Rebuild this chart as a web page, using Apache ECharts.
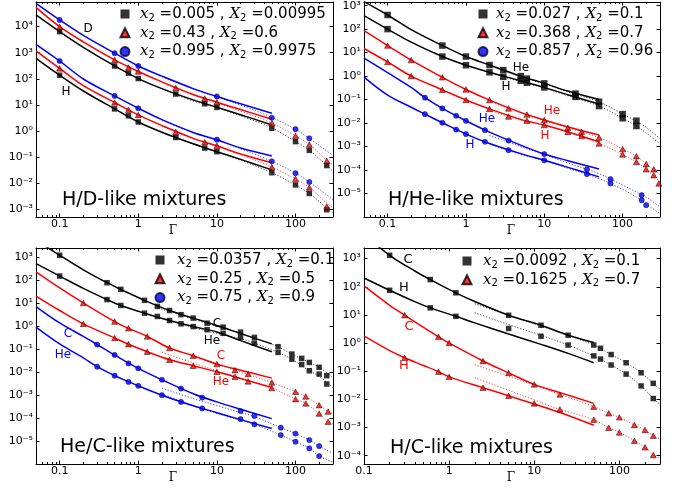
<!DOCTYPE html>
<html><head><meta charset="utf-8">
<script src="https://cdn.jsdelivr.net/npm/echarts@6/dist/echarts.min.js"></script>
<style>html,body{margin:0;padding:0;background:#fff}#c{width:678px;height:491px}</style>
</head><body><div id="c"></div>
<script>
// ---------------- Panel 1 : H/D-like mixtures ----------------
const p1_ptX = [0.1, 0.5, 0.75, 1, 3, 7, 10, 50, 100, 150, 250];
const p1_D_black = [6400, 310, 164, 102, 26, 11, 8, 1.26, 0.39, 0.18, 0.047];
const p1_D_red = [1e4, 530, 270, 190, 44, 17.5, 12.6, 2.0, 0.65, 0.3, 0.072];
const p1_D_blue = [1.8e4, 960, null, 310, null, null, 21, 3.2, 1.17, 0.52, null];
const p1_H_black = [137, 7.0, 3.8, 2.2, 0.56, 0.22, 0.16, 0.025, 0.0085, 0.004, 0.00095];
const p1_H_red = [250, 12.3, 6.5, 4.1, 0.9, 0.37, 0.27, 0.041, 0.0145, 0.0068, 0.00126];
const p1_H_blue = [480, 22, null, 7.4, null, null, 0.46, 0.068, 0.024, 0.011, null];
const p1_solX = [0.05, 0.1, 0.2, 0.5, 1, 2, 5, 10, 20, 50];
const p1_solD_black = [2.8e4, 6.4e3, 1.6e3, 310, 102, 42, 15.5, 8.1, 4.2, 1.7];
const p1_solD_red = [5.5e4, 1e4, 2.6e3, 530, 190, 76, 25, 12.6, 6.6, 2.8];
const p1_solD_blue = [7.8e4, 1.8e4, 4.6e3, 960, 310, 126, 42, 21, 11, 4.8];
const p1_solH_black = [610, 137, 34, 7.0, 2.2, 0.89, 0.32, 0.16, 0.081, 0.032];
const p1_solH_red = [1170, 250, 55, 12.3, 4.1, 1.6, 0.52, 0.27, 0.13, 0.06];
const p1_solH_blue = [2100, 480, 98, 22, 7.4, 2.7, 0.87, 0.46, 0.22, 0.11];
const p1_dotX = [2, 5, 10, 20, 50, 100, 150, 250, 300];
const p1_dotD_black = [40, 14, 7.8, 3.8, 1.3, 0.39, 0.18, 0.047, 0.028];
const p1_dotD_red = [72, 23.5, 12, 5.8, 2.0, 0.65, 0.3, 0.075, 0.05];
const p1_dotD_blue = [120, 40, 20, 9.8, 3.3, 1.15, 0.52, 0.17, 0.115];
const p1_dotH_black = [0.85, 0.31, 0.155, 0.075, 0.025, 0.0085, 0.004, 0.0011, 0.0007];
const p1_dotH_red = [1.5, 0.5, 0.26, 0.125, 0.041, 0.0145, 0.0068, 0.0017, 0.0011];
const p1_dotH_blue = [2.6, 0.85, 0.44, 0.21, 0.068, 0.024, 0.011, 0.0035, 0.0023];
const p1_legend = [['0.005', '0.00995'], ['0.43', '0.6'], ['0.995', '0.9975']];

// ---------------- Panel 2 : H/He-like mixtures ----------------
const p2_ptX_black = [0.1, 0.5, 1, 2, 3, 5, 6, 10, 25, 50, 100, 150];
const p2_He_black = [400, 20, 6.8, 2.96, 1.8, 1.0, 0.78, 0.49, 0.18, 0.081, 0.024, 0.0126];
const p2_H_black = [100, 6.8, 2.9, 1.45, 0.93, 0.63, 0.52, 0.33, 0.13, 0.053, 0.016, 0.0075];
const p2_ptX_red = [0.1, 0.2, 0.5, 1, 2, 3.5, 6, 10, 20, 30, 50, 100, 150, 200, 250, 290];
const p2_He_red = [20, 4.8, 0.89, 0.27, 0.095, 0.042, 0.023, 0.0134, 0.0063, 0.0043, 0.0024, 7.8e-4, 3.9e-4, 1.8e-4, 1.07e-4, null];
const p2_H_red = [4.0, 1.0, 0.26, 0.096, 0.04, 0.019, 0.0126, 0.0082, 0.0042, 0.0028, 0.00136, 4.6e-4, 2.2e-4, 1.07e-4, 6e-5, 2.7e-5];
const p2_ptX_blue = [0.3, 0.5, 0.75, 1, 1.75, 3.5, 10, 35, 70, 175, 200];
const p2_He_blue = [0.12, 0.042, 0.0205, 0.0125, 0.005, 0.0018, 4.8e-4, 1.07e-4, 4.1e-5, 8.5e-6, null];
const p2_H_blue = [0.024, 0.0103, 0.0053, 0.0034, 0.0016, 7e-4, 2.6e-4, 6.7e-5, 2.7e-5, 5.2e-6, 3.2e-6];
const p2_solX = [0.05, 0.1, 0.2, 0.5, 1, 2, 5, 10, 20, 50];
const p2_solHe_black = [1480, 400, 95, 20, 6.8, 2.96, 1.0, 0.49, 0.23, 0.10];
const p2_solH_black = [375, 100, 28, 6.8, 2.9, 1.45, 0.63, 0.33, 0.16, 0.065];
const p2_solHe_red = [86, 20, 4.8, 0.89, 0.27, 0.095, 0.0285, 0.0134, 0.0068, 0.0031];
const p2_solH_red = [15, 4.0, 1.0, 0.26, 0.096, 0.04, 0.0144, 0.0082, 0.0042, 0.0016];
const p2_solX_blue = [0.05, 0.1, 0.2, 0.3, 0.5, 1, 2, 5, 10, 20, 50];
const p2_solHe_blue = [5.8, 1.4, 0.33, 0.12, 0.042, 0.0125, 0.0041, 0.00115, 4.8e-4, 2.5e-4, 1.1e-4];
const p2_solH_blue = [0.9, 0.155, 0.047, 0.024, 0.0103, 0.0034, 0.00135, 5e-4, 2.6e-4, 1.3e-4, 5.1e-5];
const p2_dotX = [2, 5, 10, 20, 50, 100, 150, 200, 300];
const p2_dotHe_black = [2.8, 0.95, 0.47, 0.21, 0.08, 0.024, 0.012, 0.0065, 0.0022];
const p2_dotH_black = [1.35, 0.58, 0.31, 0.145, 0.053, 0.016, 0.0075, 0.0038, 0.0013];
const p2_dotHe_red = [0.085, 0.027, 0.013, 0.0063, 0.0024, 7.8e-4, 3.9e-4, 1.8e-4, 6.3e-5];
const p2_dotH_red = [0.036, 0.013, 0.0078, 0.0042, 0.00136, 4.6e-4, 2.2e-4, 1.07e-4, 3.2e-5];
const p2_dotHe_blue = [0.003, 0.001, 4.5e-4, 2e-4, 7e-5, 2.3e-5, 1.15e-5, 7e-6, 2.7e-6];
const p2_dotH_blue = [0.0013, 4.6e-4, 2.5e-4, 1.2e-4, 4.3e-5, 1.5e-5, 7e-6, 3.5e-6, 1.4e-6];
const p2_legend = [['0.027', '0.1'], ['0.368', '0.7'], ['0.857', '0.96']];

// ---------------- Panel 3 : He/C-like mixtures ----------------
const p3_ptX_black = [0.1, 0.4, 0.6, 1.2, 1.75, 2.5, 3.5, 5, 7.5, 12, 20, 30, 60, 90, 120, 150, 200, 250];
const p3_C_black = [1180, 76, 39, 13, 7.1, 4.7, 3.1, 2.2, 1.32, 0.89, 0.54, 0.32, 0.126, 0.06, 0.039, 0.026, 0.016, 0.0069];
const p3_He_black = [148, 14, 7.8, 3.6, 2.6, 1.73, 1.24, 0.94, 0.69, 0.48, 0.32, 0.18, 0.071, 0.036, 0.021, 0.0113, 0.0081, 0.003];
const p3_ptX_red = [0.2, 0.5, 0.75, 1.3, 2.5, 5, 10, 17, 25, 50, 100, 135, 200, 260];
const p3_C_red = [10, 1.55, 0.79, 0.35, 0.11, 0.051, 0.022, 0.012, 0.0081, 0.0035, 0.00138, 8.6e-4, 3.6e-4, 1.9e-4];
const p3_He_red = [1.23, 0.30, 0.16, 0.076, 0.034, 0.0186, 0.0102, 0.0062, 0.0039, 0.002, 6.6e-4, 4.3e-4, 1.56e-4, 6.9e-5];
const p3_ptX_blue = [0.3, 0.5, 0.75, 1, 2, 3.5, 6.5, 20, 30, 65, 100, 150, 200];
const p3_C_blue = [0.155, 0.055, 0.0235, 0.0144, 0.0046, 0.0019, 7.7e-4, 2.0e-4, 1.23e-4, 3.8e-5, 2.1e-5, 1.1e-5, 6e-6];
const p3_He_blue = [0.017, 0.0069, 0.0037, 0.0025, 9.8e-4, 5e-4, 2.6e-4, 8.9e-5, 5.3e-5, 1.8e-5, 9.3e-6, 4.8e-6, 2.2e-6];
const p3_solX_black = [0.05, 0.1, 0.2, 0.4, 0.6, 1.2, 2.5, 5, 10, 20, 50];
const p3_solC_black = [5400, 1180, 275, 76, 39, 13, 4.7, 2.2, 1.04, 0.47, 0.166];
const p3_solHe_black = [510, 148, 43, 14, 7.8, 3.6, 1.73, 0.94, 0.55, 0.23, 0.076];
const p3_solX_red = [0.05, 0.1, 0.2, 0.5, 0.75, 1.3, 2.5, 5, 10, 20, 50];
const p3_solC_red = [224, 45, 10, 1.55, 0.79, 0.35, 0.11, 0.051, 0.022, 0.012, 0.0054];
const p3_solHe_red = [20, 4.7, 1.23, 0.30, 0.16, 0.076, 0.034, 0.0186, 0.0102, 0.0052, 0.0021];
const p3_solX_blue = [0.05, 0.1, 0.2, 0.3, 0.5, 1, 2, 5, 10, 20, 50];
const p3_solC_blue = [7, 1.35, 0.35, 0.155, 0.055, 0.0144, 0.0046, 0.00113, 5e-4, 2.4e-4, 9.4e-5];
const p3_solHe_blue = [0.89, 0.165, 0.041, 0.017, 0.0069, 0.0025, 9.8e-4, 3.4e-4, 1.7e-4, 8.5e-5, 3.5e-5];
const p3_dotX_black = [1.8, 5, 10, 20, 30, 60, 90, 150, 200, 300];
const p3_dotC_black = [6.0, 2.0, 0.95, 0.48, 0.3, 0.125, 0.06, 0.026, 0.016, 0.0058];
const p3_dotHe_black = [2.3, 0.85, 0.47, 0.28, 0.18, 0.071, 0.036, 0.0113, 0.0065, 0.0021];
const p3_dotX_red = [2, 5, 10, 17, 25, 50, 100, 135, 200, 260, 300];
const p3_dotC_red = [0.14, 0.049, 0.022, 0.012, 0.0078, 0.0035, 0.00138, 8.6e-4, 3.6e-4, 1.9e-4, 1.5e-4];
const p3_dotHe_red = [0.071, 0.025, 0.011, 0.0064, 0.0042, 0.002, 6.6e-4, 4.3e-4, 1.56e-4, 7e-5, 5.5e-5];
const p3_dotX_blue = [2, 5, 10, 20, 30, 65, 100, 150, 200, 300];
const p3_dotC_blue = [0.002, 7e-4, 3.5e-4, 1.7e-4, 1.15e-4, 3.8e-5, 2.1e-5, 1.1e-5, 6e-6, 2.9e-6];
const p3_dotHe_blue = [0.0011, 3.5e-4, 1.6e-4, 8e-5, 5.3e-5, 1.8e-5, 9.3e-6, 4.8e-6, 2.2e-6, 1.2e-6];
const p3_legend = [['0.0357', '0.1'], ['0.25', '0.5'], ['0.75', '0.9']];

// ---------------- Panel 4 : H/C-like mixtures ----------------
const p4_ptX_black = [0.2, 0.6, 1.2, 5, 12, 25, 50, 60, 80, 120, 180, 250];
const p4_C_black = [1310, 180, 61, 9.7, 4.3, 1.9, 0.85, 0.65, 0.39, 0.20, 0.088, 0.037];
const p4_H_black = [75, 17.8, 8.9, 3.3, 1.74, 0.85, 0.35, 0.27, 0.166, 0.079, 0.030, 0.0107];
const p4_ptX_red = [0.3, 0.75, 1, 2.5, 5, 10, 20, 50, 75, 100, 150, 200, 250];
const p4_C_red = [9.8, 1.66, 1.0, 0.23, 0.087, 0.034, 0.015, 0.0055, 0.0032, 0.0023, 0.00123, 8.2e-4, 5.1e-4];
const p4_H_red = [0.30, 0.096, 0.063, 0.026, 0.0134, 0.0072, 0.0044, 0.0019, 9.8e-4, 6.7e-4, 3.4e-4, 2e-4, 1.05e-4];
const p4_solX_black = [0.1, 0.2, 0.4, 0.6, 1.2, 2, 5, 12, 25, 50];
const p4_solC_black = [7400, 1310, 355, 180, 61, 30, 9.7, 4.3, 1.9, 1.05];
const p4_solH_black = [205, 75, 29, 17.8, 8.9, 5.2, 2.1, 0.9, 0.43, 0.2];
const p4_solX_red = [0.1, 0.2, 0.3, 0.5, 0.75, 1, 2.5, 5, 10, 20, 50];
const p4_solC_red = [107, 22, 9.8, 3.6, 1.66, 1.0, 0.23, 0.087, 0.034, 0.0174, 0.0072];
const p4_solH_red = [1.8, 0.54, 0.30, 0.16, 0.096, 0.063, 0.026, 0.0134, 0.0068, 0.0034, 0.0012];
const p4_dotX_black = [2, 5, 12, 25, 50, 60, 80, 120, 180, 250, 300];
const p4_dotC_black = [25, 9.7, 4.0, 1.9, 0.85, 0.65, 0.39, 0.2, 0.088, 0.037, 0.023];
const p4_dotH_black = [12, 4.5, 1.9, 0.85, 0.35, 0.27, 0.166, 0.079, 0.03, 0.0107, 0.0066];
const p4_dotX_red = [2, 5, 10, 20, 50, 75, 100, 150, 200, 250, 300];
const p4_dotC_red = [0.17, 0.066, 0.032, 0.015, 0.0055, 0.0032, 0.0023, 0.00123, 8.2e-4, 5.1e-4, 3.9e-4];
const p4_dotH_red = [0.059, 0.021, 0.0096, 0.0044, 0.0019, 9.8e-4, 6.7e-4, 3.4e-4, 2e-4, 1.05e-4, 8e-5];
const p4_legend = [['0.0092', '0.1'], ['0.1625', '0.7']];

// axis extents
const xRanges = [[0.05, 300], [0.05, 300], [0.05, 300], [0.1, 300]];
const yRanges = [[5e-4, 8.8e4], [1e-6, 1430], [1e-6, 2450], [5.06e-5, 2380]];
const titles = ['H/D-like mixtures', 'H/He-like mixtures', 'He/C-like mixtures', 'H/C-like mixtures'];

// ---------------- build ----------------
const BLACK = '#000000', RED = '#ff0000', BLUE = '#0000ff';
const grids = [
  {left: 36, top: 2, width: 297, height: 215},
  {left: 364, top: 2, width: 296, height: 215},
  {left: 36, top: 248, width: 297, height: 216},
  {left: 364, top: 248, width: 296, height: 216}
];
function pairs(xs, ys) { const out = []; xs.forEach((x, i) => { if (ys[i] != null) out.push([x, ys[i]]); }); return out; }
const SUP = {'-': '\u207b', '0': '\u2070', '1': '\u00b9', '2': '\u00b2', '3': '\u00b3', '4': '\u2074', '5': '\u2075', '6': '\u2076', '7': '\u2077', '8': '\u2078', '9': '\u2079'};
function yFmt(v) { const e = Math.round(Math.log10(v)); return '10' + String(e).split('').map(c => SUP[c]).join(''); }
function xFmt(v) { return String(+(+v).toPrecision(3)); }

const xAxes = [], yAxes = [];
grids.forEach((g, i) => {
  const base = {type: 'log', logBase: 10, gridIndex: i, splitLine: {show: false},
    axisLine: {show: true, lineStyle: {color: '#000', width: 1}},
    axisTick: {show: true, inside: true, length: 3.5, lineStyle: {color: '#000'}}};
  xAxes.push(Object.assign({}, base, {position: 'bottom', min: xRanges[i][0], max: xRanges[i][1],
    minorTick: {show: true, splitNumber: 9, length: 2, lineStyle: {color: '#000'}},
    axisLabel: {show: true, margin: 2, formatter: xFmt, fontFamily: 'DejaVu Sans', fontSize: 11, color: '#000',
      showMinLabel: i === 3, showMaxLabel: false}}));
  xAxes.push(Object.assign({}, base, {position: 'top', min: xRanges[i][0], max: xRanges[i][1],
    minorTick: {show: true, splitNumber: 9, length: 2, lineStyle: {color: '#000'}},
    axisLabel: {show: false}}));
  yAxes.push(Object.assign({}, base, {position: 'left', min: yRanges[i][0], max: yRanges[i][1],
    axisLabel: {show: true, margin: 3, formatter: yFmt, fontFamily: 'DejaVu Sans', fontSize: 11, color: '#000',
      showMinLabel: false, showMaxLabel: false}}));
  yAxes.push(Object.assign({}, base, {position: 'right', min: yRanges[i][0], max: yRanges[i][1],
    axisLabel: {show: false}}));
});

const series = [];
function addLine(gi, xs, ys, color, dotted) {
  series.push({type: 'line', name: 'fit', xAxisIndex: 2 * gi, yAxisIndex: 2 * gi, data: pairs(xs, ys),
    showSymbol: false, symbol: 'none', smooth: 0.35, clip: true, silent: true, z: dotted ? 2 : 3,
    lineStyle: dotted ? {color: color, width: 1, type: [1.2, 1.8], opacity: 0.75} : {color: color, width: 1.5}});
}
const MARK = {
  black: {symbol: 'rect', size: 5.5, itemStyle: {color: BLACK}},
  red: {symbol: 'triangle', size: [6, 5.5], itemStyle: {color: RED, borderColor: '#000', borderWidth: 0.6}},
  blue: {symbol: 'circle', size: 5.2, itemStyle: {color: BLUE, borderColor: '#000033', borderWidth: 0.6}}
};
function addPts(gi, name, kind, xs, ysList, size) {
  let data = [];
  ysList.forEach(ys => { data = data.concat(pairs(xs, ys)); });
  const m = MARK[kind];
  series.push({type: 'scatter', name: name, xAxisIndex: 2 * gi, yAxisIndex: 2 * gi, data: data,
    symbol: m.symbol, symbolSize: size || m.size, itemStyle: m.itemStyle, z: 5, silent: true});
}

// panel 1
addLine(0, p1_solX, p1_solD_black, BLACK); addLine(0, p1_solX, p1_solD_red, RED); addLine(0, p1_solX, p1_solD_blue, BLUE);
addLine(0, p1_solX, p1_solH_black, BLACK); addLine(0, p1_solX, p1_solH_red, RED); addLine(0, p1_solX, p1_solH_blue, BLUE);
addLine(0, p1_dotX, p1_dotD_black, BLACK, 1); addLine(0, p1_dotX, p1_dotD_red, RED, 1); addLine(0, p1_dotX, p1_dotD_blue, BLUE, 1);
addLine(0, p1_dotX, p1_dotH_black, BLACK, 1); addLine(0, p1_dotX, p1_dotH_red, RED, 1); addLine(0, p1_dotX, p1_dotH_blue, BLUE, 1);
addPts(0, 'p1a', 'black', p1_ptX, [p1_D_black, p1_H_black]);
addPts(0, 'p1b', 'red', p1_ptX, [p1_D_red, p1_H_red]);
addPts(0, 'p1c', 'blue', p1_ptX, [p1_D_blue, p1_H_blue]);
// panel 2
addLine(1, p2_solX, p2_solHe_black, BLACK); addLine(1, p2_solX, p2_solH_black, BLACK);
addLine(1, p2_solX, p2_solHe_red, RED); addLine(1, p2_solX, p2_solH_red, RED);
addLine(1, p2_solX_blue, p2_solHe_blue, BLUE); addLine(1, p2_solX_blue, p2_solH_blue, BLUE);
addLine(1, p2_dotX, p2_dotHe_black, BLACK, 1); addLine(1, p2_dotX, p2_dotH_black, BLACK, 1);
addLine(1, p2_dotX, p2_dotHe_red, RED, 1); addLine(1, p2_dotX, p2_dotH_red, RED, 1);
addLine(1, p2_dotX, p2_dotHe_blue, BLUE, 1); addLine(1, p2_dotX, p2_dotH_blue, BLUE, 1);
addPts(1, 'p2a', 'black', p2_ptX_black, [p2_He_black, p2_H_black], 6.5);
addPts(1, 'p2b', 'red', p2_ptX_red, [p2_He_red, p2_H_red]);
addPts(1, 'p2c', 'blue', p2_ptX_blue, [p2_He_blue, p2_H_blue]);
// panel 3
addLine(2, p3_solX_black, p3_solC_black, BLACK); addLine(2, p3_solX_black, p3_solHe_black, BLACK);
addLine(2, p3_solX_red, p3_solC_red, RED); addLine(2, p3_solX_red, p3_solHe_red, RED);
addLine(2, p3_solX_blue, p3_solC_blue, BLUE); addLine(2, p3_solX_blue, p3_solHe_blue, BLUE);
addLine(2, p3_dotX_black, p3_dotC_black, BLACK, 1); addLine(2, p3_dotX_black, p3_dotHe_black, BLACK, 1);
addLine(2, p3_dotX_red, p3_dotC_red, RED, 1); addLine(2, p3_dotX_red, p3_dotHe_red, RED, 1);
addLine(2, p3_dotX_blue, p3_dotC_blue, BLUE, 1); addLine(2, p3_dotX_blue, p3_dotHe_blue, BLUE, 1);
addPts(2, 'p3a', 'black', p3_ptX_black, [p3_C_black, p3_He_black]);
addPts(2, 'p3b', 'red', p3_ptX_red, [p3_C_red, p3_He_red]);
addPts(2, 'p3c', 'blue', p3_ptX_blue, [p3_C_blue, p3_He_blue]);
// panel 4
addLine(3, p4_solX_black, p4_solC_black, BLACK); addLine(3, p4_solX_black, p4_solH_black, BLACK);
addLine(3, p4_solX_red, p4_solC_red, RED); addLine(3, p4_solX_red, p4_solH_red, RED);
addLine(3, p4_dotX_black, p4_dotC_black, BLACK, 1); addLine(3, p4_dotX_black, p4_dotH_black, BLACK, 1);
addLine(3, p4_dotX_red, p4_dotC_red, RED, 1); addLine(3, p4_dotX_red, p4_dotH_red, RED, 1);
addPts(3, 'p4a', 'black', p4_ptX_black, [p4_C_black, p4_H_black]);
addPts(3, 'p4b', 'red', p4_ptX_red, [p4_C_red, p4_H_red]);

// legends
const LEG = {};
[[p1_legend, 'p1'], [p2_legend, 'p2'], [p3_legend, 'p3'], [p4_legend, 'p4']].forEach(([arr, p]) => {
  arr.forEach((v, k) => { LEG[p + 'abc'[k]] = v; });
});
function legRich(gap) {
  return {
    g: {width: gap},
    i: {fontFamily: 'DejaVu Serif', fontStyle: 'italic', fontSize: 15, color: '#000', lineHeight: 18},
    s: {fontFamily: 'DejaVu Sans', fontSize: 10, color: '#000', padding: [8, 0, 0, 0]},
    t: {fontFamily: 'DejaVu Sans', fontSize: 15, color: '#000', lineHeight: 18}
  };
}
function legFmt(name) { const v = LEG[name]; return '{g|}{i|x}{s|2}{t| =' + v[0] + ' , }{i|X}{s|2}{t| =' + v[1] + '}'; }
const legPos = [[119.5, 6.5, 5.5], [477.5, 6.5, 3.5], [154.5, 252.5, 7.5], [461.5, 253.5, 6.5]];
const legend = legPos.map((p, i) => ({
  left: p[0], top: p[1], orient: 'vertical', itemGap: 2.3, itemWidth: 9, itemHeight: 9, padding: 0,
  selectedMode: false, formatter: legFmt, textStyle: {rich: legRich(p[2])},
  data: (i === 3 ? ['a', 'b'] : ['a', 'b', 'c']).map(s => 'p' + (i + 1) + s)
}));

// annotations
const labelsTxt = [
  ['D', 88, 29, BLACK], ['H', 66, 92, BLACK],
  ['He', 521, 68, BLACK], ['H', 506, 87, BLACK], ['He', 552, 111, RED], ['H', 545, 136, RED], ['He', 487, 119, BLUE], ['H', 470, 145, BLUE],
  ['C', 217, 324, BLACK], ['He', 212, 341, BLACK], ['C', 221, 356, RED], ['He', 221, 382, RED], ['C', 68, 334, BLUE], ['He', 63, 355, BLUE],
  ['C', 408, 260, BLACK], ['H', 404, 288, BLACK], ['C', 409, 327, RED], ['H', 404, 366, RED]
];
const titlePos = [[62, 201.5], [388, 201.5], [60, 448.5], [390, 450]];
const gammaPos = [[173, 231], [511, 231], [173, 478], [511, 478]];
const graphic = [];
titles.forEach((t, i) => graphic.push({type: 'text', left: titlePos[i][0], top: titlePos[i][1] - 11, z: 10,
  style: {text: t, font: '19px "DejaVu Sans"', fill: '#000'}}));
labelsTxt.forEach(l => graphic.push({type: 'text', x: l[1], y: l[2], z: 10,
  style: {text: l[0], font: (l[1] > 400 && l[2] > 245 ? '13px' : '12px') + ' "DejaVu Sans"', fill: l[3], align: 'center', verticalAlign: 'middle'}}));
gammaPos.forEach(p => graphic.push({type: 'text', x: p[0], y: p[1], z: 10,
  style: {text: '\u0393', font: '12px "DejaVu Serif"', fill: '#000', align: 'center', verticalAlign: 'middle'}}));

const chart = echarts.init(document.getElementById('c'), null, {renderer: 'canvas'});
chart.setOption({animation: false, backgroundColor: '#fff', grid: grids, xAxis: xAxes, yAxis: yAxes,
  series: series, legend: legend, graphic: graphic});
</script></body></html>
